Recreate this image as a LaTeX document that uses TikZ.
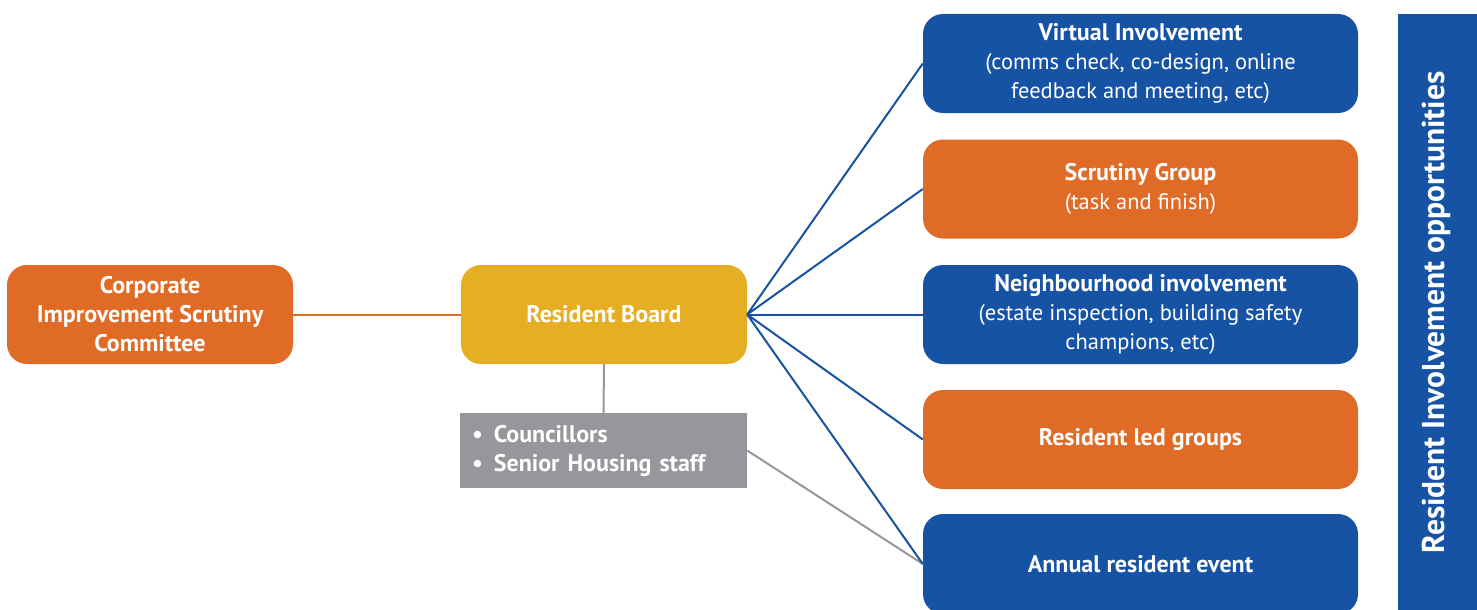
\documentclass[tikz,border=0pt]{standalone}
\usepackage{fontspec}
\setmainfont{PT Sans}
\definecolor{cblue}{HTML}{1653A4}
\definecolor{corange}{HTML}{E06B26}
\definecolor{cyellow}{HTML}{E6AE22}
\definecolor{cgrey}{HTML}{96979A}
\newcommand{\bfnt}{\fontsize{24}{29}\selectfont\bfseries}
\begin{document}
\begin{tikzpicture}[x=1pt,y=1pt,
  box/.style={rectangle, rounded corners=20pt, minimum width=286pt, minimum height=99pt,
    text=white, align=center, font=\fontsize{22.5}{29}\selectfont, inner sep=0pt},
  rbox/.style={box, minimum width=435pt},
  link/.style={line width=2pt}]
\useasboundingbox (0,0) rectangle (1477,-610);
\clip (0,0) rectangle (1477,-610);
\node[box, fill=corange] (corp) at (150,-314.5) {\bfnt Corporate\\\bfnt Improvement Scrutiny\\\bfnt Committee};
\node[box, fill=cyellow] (board) at (604,-314.5) {\bfnt Resident Board};
\node[rectangle, fill=cgrey, minimum width=287pt, minimum height=75pt, text width=263pt, inner sep=0pt,
  text=white, align=left, font=\bfnt] (grey) at (603.5,-450.5)
  {\textbullet\hspace{11pt}Councillors\\\textbullet\hspace{11pt}Senior Housing staff};
\node[rbox, fill=cblue] (virt) at (1140.5,-63.5) {\bfnt Virtual Involvement\\(comms check, co-design, online\\feedback and meeting, etc)};
\node[rbox, fill=corange] (scrut) at (1140.5,-189) {\bfnt Scrutiny Group\\(task and finish)};
\node[rbox, fill=cblue] (neigh) at (1140.5,-314.5) {\bfnt Neighbourhood involvement\\(estate inspection, building safety\\champions, etc)};
\node[rbox, fill=corange] (led) at (1140.5,-439.5) {\bfnt Resident led groups};
\node[rbox, fill=cblue, minimum height=100pt] (annual) at (1140.5,-564) {\bfnt Annual resident event};
\node[rectangle, fill=cblue, minimum width=82pt, minimum height=601pt, inner sep=0pt, anchor=north west] (bar) at (1398,-14) {};
\node[rotate=90, text=white, font=\fontsize{31.5}{34}\selectfont\bfseries] (bartext) at (1436,-312.5) {Resident Involvement opportunities};
\draw[link, corange] (corp.east) -- (board.west);
\draw[link, cgrey] (board.south) -- (grey.north);
\draw[link, cgrey] (grey.east) -- (annual.west);
\foreach \t in {virt,scrut,neigh,led,annual}
  \draw[link, cblue] (board.east) -- (\t.west);
\end{tikzpicture}
\end{document}
